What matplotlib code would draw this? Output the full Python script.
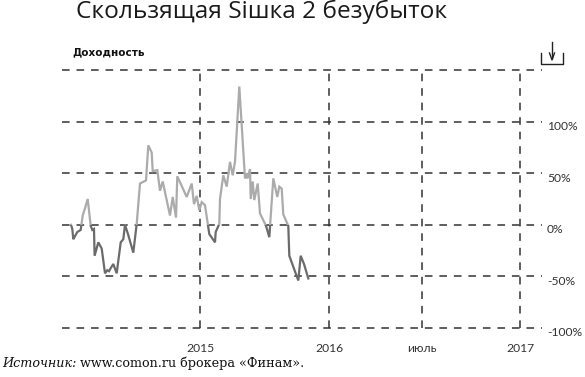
import matplotlib
matplotlib.use("Agg")
import matplotlib.pyplot as plt
from matplotlib.patches import Rectangle
from matplotlib.lines import Line2D
import numpy as np

# ---- data (x in chart time units, y in % return) ----
t = [71, 72.3, 73.3, 75, 77.3, 80.7, 82.7, 85, 87.7, 90.7, 92.3, 94, 94.6, 98.3, 101.7,
     105, 107.3, 109, 110.7, 113.3, 116.7, 120.7, 123.3, 125, 128.3, 133.3, 136.7, 140,
     146, 148.3, 151.7, 152.7, 157.3, 160, 162.7, 170, 172.7, 176, 177.3, 186.7, 191.7,
     194, 196.7, 199.3, 201.7, 205, 209.3, 215, 215.7, 219.3, 220, 223.3, 226.7, 230,
     232.7, 235, 239.3, 245, 246.7, 247.3, 250, 250.7, 252.7, 254.3, 257.7, 260, 266,
     269.3, 273.3, 277.3, 279.3, 281.7, 283.3, 288.3, 289.3, 298.3, 300.7, 304, 308.3]
ret = [0, -4, -14, -11, -7, -5, 9, 16, 25, -1, -5, -4, -30, -17, -23,
       -47, -44, -45, -42, -38, -47, -17, -14, 0, -10, -27, 1, 40,
       43, 77, 70, 52, 53, 33, 42, 9, 27, 7, 47, 27, 40,
       20, 28, 14, 22, 19, -9, -17, -7, 1, 25, 48, 37, 61,
       48, 61, 134, 45, 50, 45, 54, 25, 42, 24, 40, 11, -1,
       -12, 45, 27, 37, 35, 10, -1, -30, -54, -30, -38, -52]

yticks = [100, 50, 0, -50, -100]
ytick_labels = ["100%", "50%", "0%", "-50%", "-100%"]
grid_y = [150, 100, 50, 0, -50, -100]
xticks = [200, 329, 422, 520]
xtick_labels = ["2015", "2016", "июль", "2017"]

W, H = 585, 377
fig = plt.figure(figsize=(W / 100, H / 100), dpi=100)
fig.patch.set_facecolor("white")

ax = fig.add_axes([62 / W, 1 - 328 / H, (542 - 62) / W, (328 - 70) / H])
ax.set_xlim(62, 542)
ax.set_ylim(-100, 150)
for s in ax.spines.values():
    s.set_visible(False)
ax.set_xticks([])
ax.set_yticks([])

grid_kw = dict(color="#333333", lw=1.1, dashes=(5, 4.5), zorder=1, clip_on=False)
for gy in grid_y:
    ax.axhline(gy, **grid_kw)
for gx in xticks:
    ax.axvline(gx, **grid_kw)

# line: light above zero, dark below zero
top_clip = Rectangle((0, 0), 1000, 1000, transform=ax.transData, visible=False)
bot_clip = Rectangle((0, -1000), 1000, 1000, transform=ax.transData, visible=False)
ax.add_patch(top_clip)
ax.add_patch(bot_clip)
l1, = ax.plot(t, ret, color="#ababab", lw=1.6, zorder=3, solid_joinstyle="miter")
l1.set_clip_path(top_clip)
l2, = ax.plot(t, ret, color="#6b6b6b", lw=1.6, zorder=3, solid_joinstyle="miter")
l2.set_clip_path(bot_clip)

# y labels on right
for v, lab in zip(yticks, ytick_labels):
    ax.annotate(lab, xy=(1, v), xycoords=("axes fraction", "data"),
                xytext=(5, -5), textcoords="offset pixels",
                ha="left", va="center", fontsize=8.7, color="#333333",
                family="Lato")
# x labels
for v, lab in zip(xticks, xtick_labels):
    ax.annotate(lab, xy=(v, 0), xycoords=("data", "axes fraction"),
                xytext=(0, -20), textcoords="offset pixels",
                ha="center", va="center", fontsize=8.7, color="#333333",
                family="Lato")

fig.text(76 / W, 1 - 18.5 / H, "Скользящая Siшка 2 безубыток", ha="left", va="baseline",
         fontsize=17.6, color="#1a1a1a", family="Open Sans")
fig.text(72 / W, 1 - 52 / H, "Доходность", ha="left", va="center",
         fontsize=7.5, fontweight="bold", color="#111111", family="DejaVu Sans")

# download icon
icon_kw = dict(color="#222222", lw=1.0, transform=fig.transFigure)
fig.add_artist(Line2D([541 / W, 541 / W, 563 / W, 563 / W],
                      [1 - 53 / H, 1 - 64 / H, 1 - 64 / H, 1 - 53 / H], **icon_kw))
fig.add_artist(Line2D([552 / W, 552 / W], [1 - 42 / H, 1 - 58 / H], **icon_kw))
fig.add_artist(Line2D([549.5 / W, 552 / W, 554.5 / W], [1 - 53 / H, 1 - 60 / H, 1 - 53 / H],
                      color="#222222", lw=1.0, transform=fig.transFigure))

t1 = fig.text(2 / W, 1 - 367 / H, "Источник:", ha="left", va="baseline",
              fontsize=9.2, style="italic", family="DejaVu Serif", color="#111111")
fig.canvas.draw()
bb = t1.get_window_extent()
fig.text(bb.x1 / W + 4 / W, 1 - 367 / H, "www.comon.ru брокера «Финам».", ha="left",
         va="baseline", fontsize=9.2, family="DejaVu Serif", color="#111111")

fig.savefig("out.png", dpi=100, facecolor="white")
